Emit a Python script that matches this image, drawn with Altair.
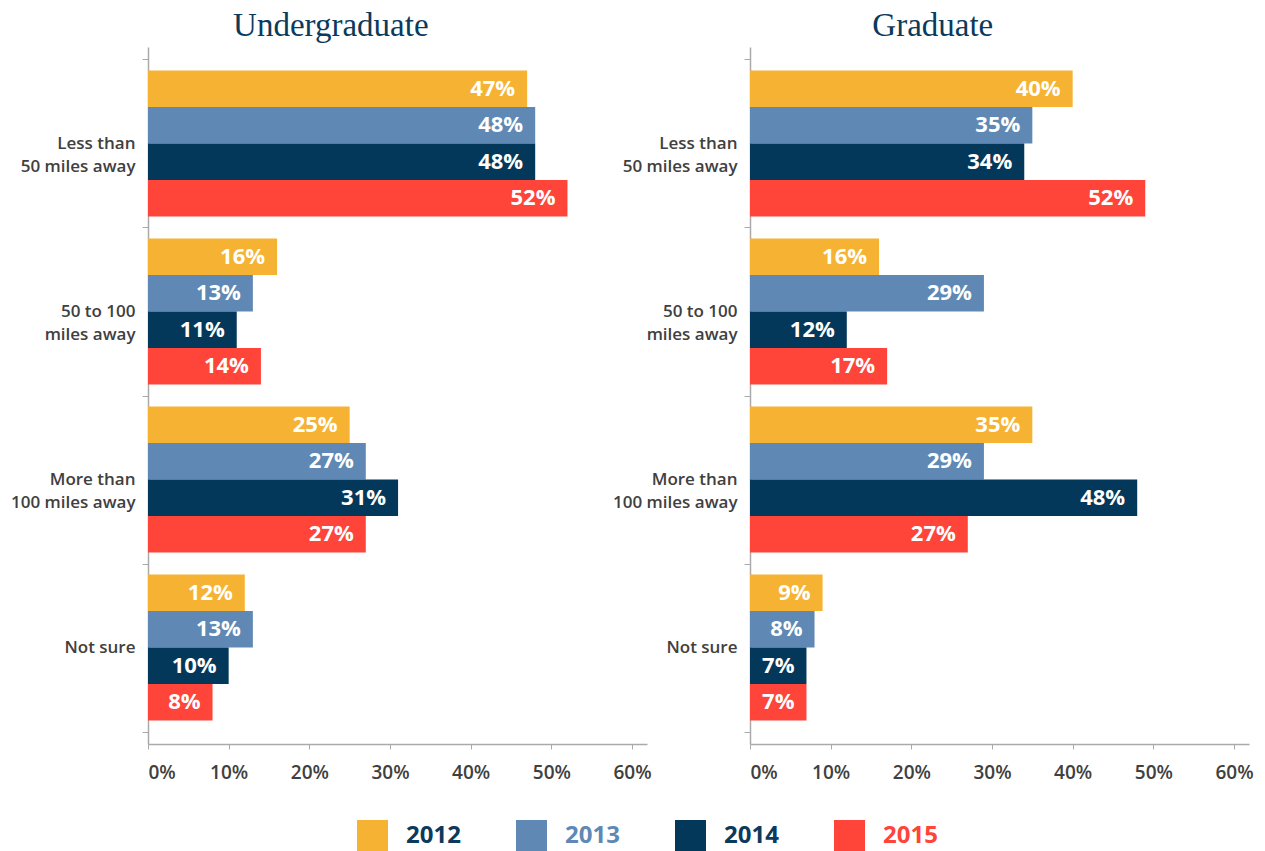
import altair as alt
import pandas as pd

categories = ["Less than|50 miles away", "50 to 100|miles away", "More than|100 miles away", "Not sure"]
years = ["2012", "2013", "2014", "2015"]
colors = ["#F6B333", "#5F89B4", "#03385A", "#FF443A"]
legend_text_colors = ["#0B3A5C", "#5F89B4", "#0B3A5C", "#FF443A"]

# Undergraduate: bar values and printed labels (percent)
ug_2012 = [47, 16, 25, 12]
ug_2013 = [48, 13, 27, 13]
ug_2014 = [48, 11, 31, 10]
ug_2015 = [52, 14, 27, 8]
ug_labels_2012 = [47, 16, 25, 12]
ug_labels_2013 = [48, 13, 27, 13]
ug_labels_2014 = [48, 11, 31, 10]
ug_labels_2015 = [52, 14, 27, 8]

# Graduate: bar values as drawn and printed labels
gr_2012 = [40, 16, 35, 9]
gr_2013 = [35, 29, 29, 8]
gr_2014 = [34, 12, 48, 7]
gr_2015 = [49, 17, 27, 7]
gr_labels_2012 = [40, 16, 35, 9]
gr_labels_2013 = [35, 29, 29, 8]
gr_labels_2014 = [34, 12, 48, 7]
gr_labels_2015 = [52, 17, 27, 7]

x_ticks = [0, 0.1, 0.2, 0.3, 0.4, 0.5, 0.6]


def build_df(vals, labs):
    rows = []
    for yi, y in enumerate(years):
        for ci, c in enumerate(categories):
            rows.append({"cat": c, "year": y, "value": vals[yi][ci] / 100.0,
                         "label": f"{labs[yi][ci]}%"})
    return pd.DataFrame(rows)


ug_df = build_df([ug_2012, ug_2013, ug_2014, ug_2015],
                 [ug_labels_2012, ug_labels_2013, ug_labels_2014, ug_labels_2015])
gr_df = build_df([gr_2012, gr_2013, gr_2014, gr_2015],
                 [gr_labels_2012, gr_labels_2013, gr_labels_2014, gr_labels_2015])

label_color_expr = (
    "datum.label == '2013' ? '%s' : datum.label == '2015' ? '%s' : '%s'"
    % (legend_text_colors[1], legend_text_colors[3], legend_text_colors[0])
)

FONT = "Open Sans"


def panel(df, title, show_legend):
    y_enc = alt.Y(
        "cat:N", sort=categories, title=None,
        scale=alt.Scale(paddingInner=0, paddingOuter=0.074),
        axis=alt.Axis(labelExpr="split(datum.label, '|')", labelFont=FONT,
                      labelFontWeight=600, labelFontSize=17, labelColor="#404040",
                      labelLineHeight=23, tickBand="extent", tickSize=6,
                      tickColor="#aaaaaa", domainColor="#aaaaaa", domainWidth=1.5,
                      labelPadding=7, ticks=True, grid=False),
    )
    yoff = alt.YOffset("year:N", sort=years,
                       scale=alt.Scale(paddingOuter=0.3, paddingInner=0))
    x_enc = alt.X(
        "value:Q", title=None,
        scale=alt.Scale(domain=[0, 0.6186], nice=False),
        axis=alt.Axis(values=x_ticks, format=".0%", labelFont=FONT, labelFontWeight=600,
                      labelFontSize=19, labelColor="#404040", tickSize=5,
                      tickColor="#aaaaaa", domainColor="#aaaaaa", domainWidth=1.5,
                      labelPadding=14, grid=False),
    )
    if show_legend:
        legend = alt.Legend(
            title=None, orient="none", direction="horizontal", legendX=209, legendY=773,
            symbolType="square", symbolSize=961, symbolStrokeWidth=0, symbolOpacity=1,
            labelFont=FONT, labelFontWeight="bold", labelFontSize=24,
            labelColor=alt.ExprRef(label_color_expr), labelOffset=18, columnPadding=55,
        )
    else:
        legend = None
    color = alt.Color("year:N", sort=years,
                      scale=alt.Scale(domain=years, range=colors), legend=legend)
    base = alt.Chart(df)
    bars = base.mark_bar().encode(y=y_enc, yOffset=yoff, x=x_enc, color=color)
    text = base.mark_text(align="right", baseline="middle", dx=-12, color="white",
                          font=FONT, fontWeight="bold", fontSize=22).encode(
        y=alt.Y("cat:N", sort=categories), yOffset=yoff, x="value:Q", text="label:N")
    return alt.layer(bars, text).properties(
        width=499, height=697,
        title=alt.TitleParams(title, font="Liberation Serif", fontSize=33,
                              fontWeight="normal", color="#0B3A5C", anchor="middle",
                              frame="bounds", offset=-5),
    )


left = panel(ug_df, "Undergraduate", True)
right = panel(gr_df, "Graduate", False)

chart = alt.hconcat(left, right, spacing=-40).properties(
    padding={"left": 2, "top": 2, "right": 0, "bottom": 0}
).configure_view(stroke=None)

chart.save("out.html", embed_options={"renderer": "svg", "actions": False})
